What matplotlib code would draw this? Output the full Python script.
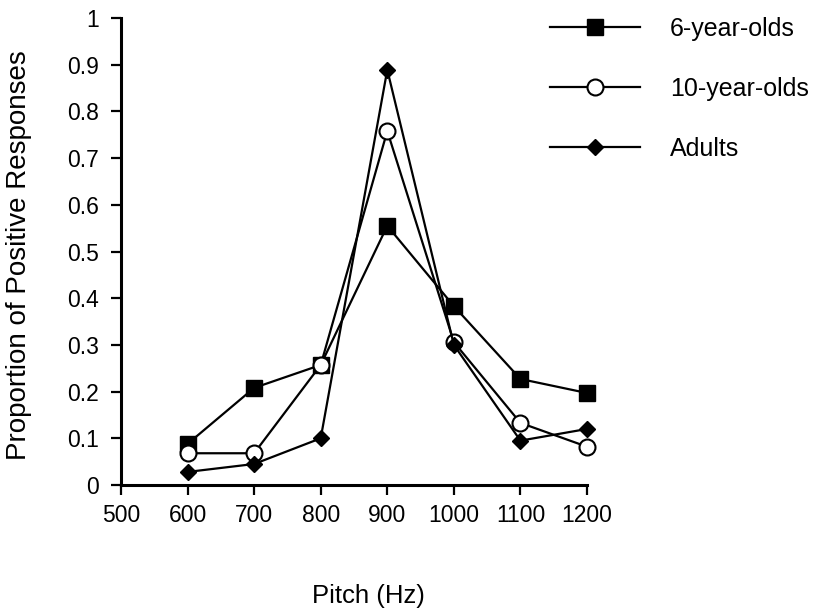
import numpy as np
import matplotlib.pyplot as plt

plt.rcParams['font.family'] = ['Liberation Sans', 'DejaVu Sans']

# data
pitch = [600, 700, 800, 900, 1000, 1100, 1200]
six_year = [0.088, 0.208, 0.257, 0.555, 0.383, 0.227, 0.197]
ten_year = [0.068, 0.068, 0.257, 0.758, 0.306, 0.133, 0.082]
adults = [0.028, 0.045, 0.100, 0.889, 0.300, 0.095, 0.120]

x_ticks = [500, 600, 700, 800, 900, 1000, 1100, 1200]
y_ticks = [0, 0.1, 0.2, 0.3, 0.4, 0.5, 0.6, 0.7, 0.8, 0.9, 1]
y_labels = ['0', '0.1', '0.2', '0.3', '0.4', '0.5', '0.6', '0.7', '0.8', '0.9', '1']

fig = plt.figure(figsize=(8.27, 6.12), dpi=100)
ax = fig.add_axes([0.1463, 0.2075, 0.7098 - 0.1463, 0.9706 - 0.2075])

ax.plot(pitch, six_year, color='black', lw=1.6, marker='s', ms=12,
        mfc='black', mec='black', label='6-year-olds', zorder=3, clip_on=False)
ax.plot(pitch, ten_year, color='black', lw=1.6, marker='o', ms=11.5,
        mfc='white', mec='black', mew=1.5, label='10-year-olds', zorder=4,
        clip_on=False)
ax.plot(pitch, adults, color='black', lw=1.6, marker='D', ms=8.5,
        mfc='black', mec='black', label='Adults', zorder=5, clip_on=False)

ax.set_xlim(500, 1200)
ax.set_ylim(0, 1)
ax.set_xticks(x_ticks)
ax.set_yticks(y_ticks)
ax.set_yticklabels(y_labels)
ax.tick_params(direction='out', length=7, width=1.6, labelsize=16.5)
ax.tick_params(axis='x', pad=7)
ax.tick_params(axis='y', pad=9)

for s in ['top', 'right']:
    ax.spines[s].set_visible(False)
for s in ['left', 'bottom']:
    ax.spines[s].set_linewidth(2.2)

fig.text(19 / 827, 1 - 255 / 612, 'Proportion of Positive Responses',
         fontsize=20, rotation=90, ha='center', va='center')
fig.text(368 / 827, 1 - 596 / 612, 'Pitch (Hz)', fontsize=18.5,
         ha='center', va='center')

leg = ax.legend(loc='upper left', bbox_to_anchor=(550 / 827, 1 - 17 / 612),
                bbox_transform=fig.transFigure, frameon=False, fontsize=18,
                handlelength=3.6, handletextpad=1.2, labelspacing=1.44,
                borderaxespad=0, borderpad=0)

fig.savefig('out.png', dpi=100)
